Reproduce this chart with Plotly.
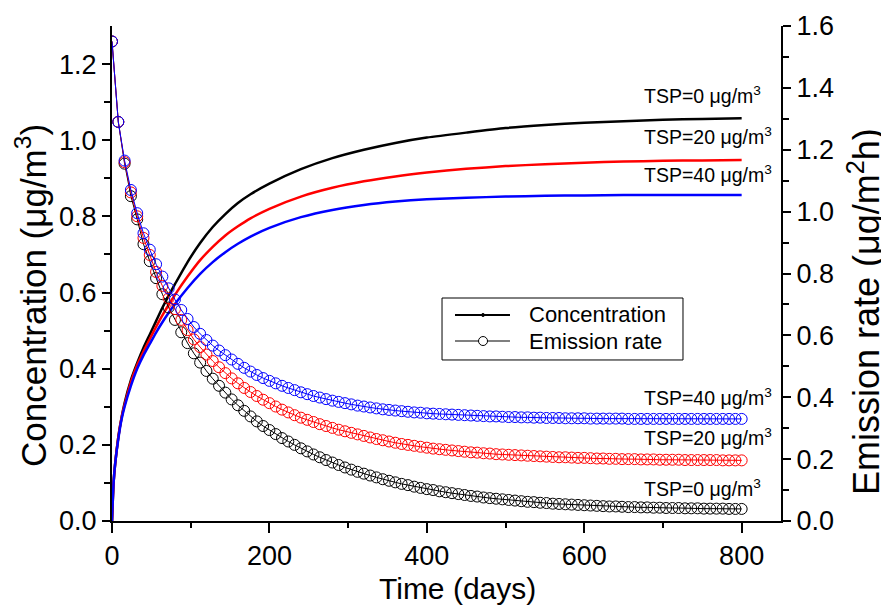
import plotly.graph_objects as go

# ---------------- data ----------------
# Emission rate (right axis), sampled every 8 days from 0 to 800
t_em = list(range(0, 801, 8))

em_tsp0 = [1.55, 1.29, 1.155, 1.05, 0.975, 0.895, 0.84, 0.785, 0.733, 0.69,
           0.65, 0.61, 0.575, 0.542, 0.512, 0.485, 0.46, 0.437, 0.415, 0.393,
           0.374, 0.356, 0.338, 0.322, 0.307, 0.294, 0.281, 0.268, 0.257, 0.246,
           0.235, 0.225, 0.215, 0.206, 0.197, 0.189, 0.181, 0.173, 0.166, 0.159,
           0.153, 0.147, 0.141, 0.135, 0.13, 0.125, 0.12, 0.116, 0.111, 0.107,
           0.103, 0.1, 0.096, 0.093, 0.09, 0.087, 0.084, 0.081, 0.079, 0.076,
           0.074, 0.072, 0.07, 0.068, 0.066, 0.064, 0.062, 0.061, 0.059, 0.058,
           0.056, 0.055, 0.054, 0.053, 0.052, 0.051, 0.05, 0.049, 0.048, 0.047,
           0.047, 0.046, 0.045, 0.045, 0.044, 0.044, 0.043, 0.043, 0.042, 0.042,
           0.042, 0.041, 0.041, 0.041, 0.04, 0.04, 0.04, 0.04, 0.039, 0.039,
           0.039]

em_tsp20 = [1.55, 1.29, 1.16, 1.062, 0.985, 0.915, 0.86, 0.805, 0.76, 0.72,
            0.685, 0.65, 0.617, 0.587, 0.562, 0.538, 0.517, 0.497, 0.478, 0.461,
            0.445, 0.43, 0.417, 0.404, 0.392, 0.381, 0.37, 0.36, 0.351, 0.342,
            0.334, 0.327, 0.32, 0.313, 0.307, 0.301, 0.295, 0.29, 0.285, 0.28,
            0.275, 0.27, 0.265, 0.261, 0.257, 0.253, 0.249, 0.246, 0.243, 0.24,
            0.237, 0.234, 0.232, 0.23, 0.228, 0.226, 0.224, 0.222, 0.221, 0.219,
            0.218, 0.216, 0.215, 0.214, 0.213, 0.212, 0.211, 0.21, 0.209, 0.208,
            0.207, 0.206, 0.206, 0.205, 0.204, 0.204, 0.203, 0.202, 0.202, 0.201,
            0.201, 0.2, 0.2, 0.2, 0.199, 0.199, 0.199, 0.198, 0.198, 0.198,
            0.198, 0.197, 0.197, 0.197, 0.197, 0.197, 0.197, 0.196, 0.196, 0.196,
            0.196]

em_tsp40 = [1.55, 1.29, 1.165, 1.07, 0.995, 0.93, 0.877, 0.83, 0.79, 0.752,
            0.716, 0.682, 0.653, 0.627, 0.605, 0.585, 0.567, 0.551, 0.536, 0.522,
            0.508, 0.495, 0.483, 0.472, 0.462, 0.453, 0.445, 0.437, 0.43, 0.423,
            0.416, 0.41, 0.404, 0.399, 0.394, 0.389, 0.385, 0.381, 0.377, 0.373,
            0.37, 0.367, 0.364, 0.361, 0.359, 0.357, 0.355, 0.353, 0.351, 0.35,
            0.348, 0.347, 0.346, 0.345, 0.344, 0.343, 0.342, 0.341, 0.34, 0.339,
            0.338, 0.338, 0.337, 0.336, 0.336, 0.335, 0.335, 0.334, 0.334, 0.333,
            0.333, 0.333, 0.332, 0.332, 0.332, 0.332, 0.331, 0.331, 0.331, 0.331,
            0.331, 0.331, 0.33, 0.33, 0.33, 0.33, 0.33, 0.33, 0.33, 0.33,
            0.33, 0.33, 0.33, 0.33, 0.33, 0.33, 0.33, 0.33, 0.33, 0.33,
            0.33]

# Concentration (left axis)
t_c = [0, 2, 4, 8, 12, 16, 24, 32, 40, 48, 56, 64, 72, 80, 96, 112, 128, 144,
       160, 176, 200, 240, 280, 320, 360, 400, 450, 500, 550, 600, 650, 700,
       750, 800]
c_tsp0 = [0, 0.1, 0.15, 0.22, 0.27, 0.31, 0.37, 0.415, 0.455, 0.49, 0.525,
          0.56, 0.592, 0.622, 0.68, 0.73, 0.772, 0.806, 0.835, 0.858, 0.886,
          0.924, 0.953, 0.975, 0.993, 1.007, 1.02, 1.032, 1.04, 1.046, 1.05,
          1.054, 1.056, 1.058]
c_tsp20 = [0, 0.1, 0.15, 0.22, 0.27, 0.305, 0.365, 0.41, 0.445, 0.478, 0.51,
           0.54, 0.568, 0.594, 0.642, 0.685, 0.72, 0.75, 0.774, 0.795, 0.82,
           0.852, 0.875, 0.892, 0.905, 0.915, 0.925, 0.932, 0.937, 0.941, 0.944,
           0.946, 0.947, 0.948]
c_tsp40 = [0, 0.1, 0.15, 0.215, 0.265, 0.3, 0.355, 0.4, 0.435, 0.465, 0.495,
           0.522, 0.547, 0.57, 0.612, 0.649, 0.68, 0.706, 0.728, 0.747, 0.77,
           0.798, 0.817, 0.83, 0.839, 0.845, 0.849, 0.852, 0.854, 0.855, 0.856,
           0.856, 0.856, 0.856]

series_colors = ["#000000", "#ff0000", "#0000ff"]
tsp_labels = ["TSP=0 μg/m<sup>3</sup>", "TSP=20 μg/m<sup>3</sup>", "TSP=40 μg/m<sup>3</sup>"]
legend_labels = ["Concentration", "Emission rate"]
x_title = "Time (days)"
y_title = "Concentration (μg/m<sup>3</sup>)"
y2_title = "Emission rate (μg/m<sup>2</sup>h)"

FONT = "Liberation Sans, Arial, sans-serif"

fig = go.Figure()

# Emission rate series (right axis)
for ys, col in zip([em_tsp0, em_tsp20, em_tsp40], series_colors):
    fig.add_trace(go.Scatter(
        x=t_em, y=ys, mode="lines+markers", yaxis="y2",
        line=dict(color=col, width=1),
        marker=dict(symbol="circle-open", size=11, color=col, line=dict(width=1, color=col)),
        showlegend=False, hoverinfo="skip"))

# Concentration series (left axis)
for ys, col in zip([c_tsp0, c_tsp20, c_tsp40], series_colors):
    fig.add_trace(go.Scatter(
        x=t_c, y=ys, mode="lines", line=dict(color=col, width=2.5, shape="spline", smoothing=0.6),
        showlegend=False, hoverinfo="skip"))

# Curve labels
ann_top_y = [1.118, 1.01, 0.912]
ann_bot_y = [0.086, 0.22, 0.326]
for lab, yv in zip(tsp_labels + tsp_labels, ann_top_y + ann_bot_y):
    fig.add_annotation(x=674, y=yv, xref="x", yref="y", text=lab, showarrow=False,
                       xanchor="left", yanchor="middle", font=dict(family=FONT, size=19.5, color="black"))

# Axis titles (as annotations for exact placement)
fig.add_annotation(x=0.5157, y=0, xref="paper", yref="paper", yshift=-67, text=x_title,
                   showarrow=False, xanchor="center", yanchor="middle",
                   font=dict(family=FONT, size=30, color="black"))
fig.add_annotation(x=0, y=0.4545, xref="paper", yref="paper", xshift=-81, text=y_title,
                   textangle=-90, showarrow=False, xanchor="center", yanchor="middle",
                   font=dict(family=FONT, size=35, color="black"))
fig.add_annotation(x=1, y=0.422, xref="paper", yref="paper", xshift=83, text=y2_title,
                   textangle=-90, showarrow=False, xanchor="center", yanchor="middle",
                   font=dict(family=FONT, size=36, color="black"))

# Legend box (drawn by hand to match the original's proportions)
shapes = [
    dict(type="rect", xref="paper", yref="paper", x0=0.4933, x1=0.8535, y0=0.3253, y1=0.4505,
         line=dict(color="black", width=1), fillcolor="white", layer="above"),
    dict(type="line", xref="paper", yref="paper", x0=0.5127, x1=0.5949, y0=0.4162, y1=0.4162,
         line=dict(color="black", width=2)),
    dict(type="circle", xref="paper", yref="paper", xsizemode="pixel", ysizemode="pixel",
         xanchor=0.5546, yanchor=0.4162, x0=-1.5, x1=1.5, y0=-1.5, y1=1.5,
         line=dict(color="black", width=1), fillcolor="black"),
    dict(type="line", xref="paper", yref="paper", x0=0.5127, x1=0.5949, y0=0.3636, y1=0.3636,
         line=dict(color="black", width=1.2)),
    dict(type="circle", xref="paper", yref="paper", xsizemode="pixel", ysizemode="pixel",
         xanchor=0.5546, yanchor=0.3636, x0=-4.5, x1=4.5, y0=-4.5, y1=4.5,
         line=dict(color="black", width=1), fillcolor="white"),
]
for lab, yv in zip(legend_labels, [0.4162, 0.3636]):
    fig.add_annotation(x=0.6203, y=yv, xref="paper", yref="paper", text=lab, showarrow=False,
                       xanchor="left", yanchor="middle", font=dict(family=FONT, size=22, color="black"))

axis_common = dict(showline=True, linecolor="black", linewidth=2, ticks="outside",
                   tickcolor="black", tickwidth=2, showgrid=False, zeroline=False,
                   automargin=False,
                   tickfont=dict(family=FONT, size=27, color="black"))

fig.update_layout(
    width=881, height=600,
    margin=dict(l=104, r=108, t=18, b=87),
    paper_bgcolor="white", plot_bgcolor="white",
    font=dict(family=FONT, color="black"),
    showlegend=False,
    shapes=shapes,
    xaxis=dict(range=[0, 850], tickvals=[0, 200, 400, 600, 800], ticklen=10, ticklabelstandoff=0,
               minor=dict(tickvals=[100, 300, 500, 700], ticks="outside", ticklen=5, tickwidth=2, tickcolor="black"),
               **axis_common),
    xaxis2=dict(range=[0, 850], overlaying="x", side="top", anchor="y", showline=True, automargin=False,
                linecolor="black", linewidth=2, ticks="inside", tickvals=[100, 200, 300, 400, 500, 600, 700, 800],
                ticklen=6, tickwidth=2, tickcolor="black", showticklabels=False, showgrid=False, zeroline=False),
    yaxis=dict(range=[0, 1.3], tickvals=[0, 0.2, 0.4, 0.6, 0.8, 1.0, 1.2], ticklen=8,
               ticktext=["0.0", "0.2", "0.4", "0.6", "0.8", "1.0", "1.2"],
               minor=dict(tickvals=[0.1, 0.3, 0.5, 0.7, 0.9, 1.1], ticks="outside", ticklen=6, tickwidth=2, tickcolor="black"),
               **axis_common),
    yaxis2=dict(range=[0, 1.6], overlaying="y", side="right", anchor="x", ticklen=8,
                tickvals=[0, 0.2, 0.4, 0.6, 0.8, 1.0, 1.2, 1.4, 1.6],
                ticktext=["0.0", "0.2", "0.4", "0.6", "0.8", "1.0", "1.2", "1.4", "1.6"],
                minor=dict(tickvals=[0.1, 0.3, 0.5, 0.7, 0.9, 1.1, 1.3, 1.5], ticks="outside", ticklen=6, tickwidth=2, tickcolor="black"),
                **axis_common),
)

fig.write_html("out.html")
